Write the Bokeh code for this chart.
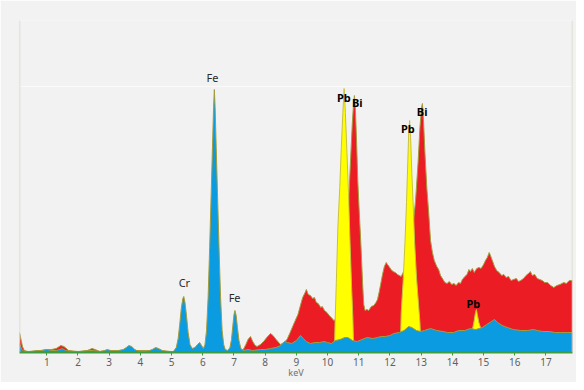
from bokeh.plotting import figure
from bokeh.models import Range1d, FixedTicker, Span
from bokeh.embed import file_html
from bokeh.resources import INLINE
from bokeh.core.properties import value

# ---------------- data (keV, counts) ----------------
blue_kev = [0.125, 0.16, 0.22, 0.30, 0.50, 0.70, 0.85, 1.00, 1.15, 1.30, 1.42, 1.50, 1.60, 1.80,
            2.10, 2.35, 2.50, 2.70, 2.85, 2.94, 3.05, 3.30, 3.45, 3.55, 3.63, 3.72, 3.82, 3.95,
            4.20, 4.38, 4.49, 4.58, 4.70, 4.90, 5.05,
            5.08, 5.15, 5.21, 5.26, 5.31, 5.36, 5.39, 5.43, 5.48, 5.53, 5.59, 5.66,
            5.75, 5.83, 5.90, 5.96, 6.02,
            6.07, 6.12, 6.17, 6.22, 6.27, 6.31, 6.345, 6.37, 6.395, 6.43, 6.47, 6.52, 6.57,
            6.62, 6.67, 6.72,
            6.80, 6.87, 6.92, 6.96, 7.00, 7.03, 7.07, 7.11, 7.16, 7.22, 7.30,
            7.45, 7.60, 7.85, 8.00, 8.17,
            8.35, 8.50, 8.62, 8.72, 8.85, 9.00, 9.13, 9.22, 9.32, 9.45, 9.60, 9.75, 9.88, 10.00,
            10.12, 10.25, 10.40, 10.55, 10.65, 10.80, 10.95, 11.10, 11.27, 11.45, 11.60, 11.72,
            11.85, 12.00, 12.12, 12.30, 12.45, 12.60, 12.70, 12.85, 12.98, 13.10, 13.30, 13.50,
            13.70, 13.85, 14.04, 14.20, 14.40, 14.58, 14.75, 14.96, 15.10, 15.25, 15.35, 15.45,
            15.60, 15.76, 15.95, 16.19, 16.40, 16.60, 16.72, 16.90, 17.10, 17.30, 17.50, 17.70,
            17.85]
blue_cts = [9, 6, 2, 1, 1, 2, 2, 3, 2, 2, 3, 4, 2, 1,
            1, 2, 2, 1, 2, 3, 2, 2, 3, 5, 7, 6, 3, 1,
            1, 3, 5, 4, 2, 1, 1,
            2, 5, 14, 28, 44, 54, 56, 50, 36, 20, 8, 4,
            5, 8, 10, 7, 4,
            8, 22, 55, 105, 160, 205, 245, 263, 245, 205, 160, 105, 55,
            22, 8, 3,
            2, 5, 13, 26, 38, 42, 37, 25, 12, 4, 2,
            3, 2, 3, 3, 4,
            5, 7, 11, 10, 9, 12, 17, 14, 11, 9, 10, 10, 11, 10,
            9, 12, 13, 15, 15, 12, 11, 13, 15, 14, 15, 16,
            16, 17, 19, 20, 22, 26, 25, 22, 21, 22, 24, 22,
            21, 20, 20, 22, 22, 24, 23, 25, 28, 31, 33, 30,
            27, 25, 23, 22, 22, 23, 22, 21, 21, 20, 20, 20,
            20]

red_kev = [0.125, 0.14, 0.18, 0.22, 0.28, 0.40, 0.80, 1.00, 1.15, 1.30, 1.45, 1.55, 1.70, 2.00,
           2.30, 2.45, 2.55, 2.70, 3.00, 3.50, 4.50, 5.00, 7.20, 7.30, 7.38, 7.45, 7.53, 7.60,
           7.68, 7.74, 7.85, 7.95, 8.05, 8.17, 8.25, 8.35, 8.49, 8.60, 8.70, 8.80, 8.88, 8.95,
           9.05, 9.12, 9.20, 9.28, 9.32, 9.38, 9.45, 9.52, 9.58, 9.64, 9.70, 9.78, 9.83, 9.90,
           9.98, 10.05, 10.12, 10.20, 10.25, 10.30, 10.45, 10.55, 10.62, 10.68, 10.74, 10.79,
           10.83, 10.86, 10.89, 10.93, 10.97, 11.00, 11.04, 11.08, 11.12, 11.16, 11.20, 11.26,
           11.32, 11.40, 11.48, 11.55, 11.60, 11.65, 11.70, 11.76, 11.82, 11.88, 11.92, 11.97,
           12.03, 12.10, 12.17, 12.24, 12.30, 12.36, 12.50, 12.65, 12.75, 12.82, 12.90, 12.96,
           13.01, 13.04, 13.07, 13.12, 13.18, 13.24, 13.30, 13.36, 13.42, 13.50, 13.56, 13.62,
           13.70, 13.76, 13.83, 13.90, 13.98, 14.05, 14.12, 14.20, 14.26, 14.32, 14.40, 14.47,
           14.53, 14.58, 14.64, 14.70, 14.78, 14.85, 14.92, 15.00, 15.06, 15.12, 15.18, 15.22,
           15.28, 15.35, 15.42, 15.50, 15.58, 15.65, 15.72, 15.80, 15.88, 15.96, 16.05, 16.12,
           16.19, 16.28, 16.36, 16.44, 16.50, 16.56, 16.64, 16.72, 16.80, 16.88, 16.96, 17.05,
           17.15, 17.25, 17.35, 17.45, 17.57, 17.65, 17.75, 17.85]
red_cts = [20, 18, 12, 6, 2, 1, 2, 3, 3, 4, 7, 6, 2, 1,
           2, 4, 3, 1, 2, 2, 2, 1, 1, 3, 8, 13, 16, 11,
           7, 6, 8, 11, 15, 19, 17, 13, 8, 10, 13, 20, 26, 31,
           38, 46, 55, 60, 63, 58, 57, 54, 55, 50, 49, 45, 46, 42,
           40, 37, 35, 32, 33, 38, 50, 70, 110, 155, 195, 228,
           248, 257, 245, 210, 170, 150, 125, 100, 70, 48, 42, 43,
           42, 46, 47, 50, 53, 60, 68, 78, 86, 90, 88, 86,
           83, 81, 80, 78, 77, 76, 85, 100, 130, 152, 190, 225,
           245, 249, 235, 200, 165, 140, 112, 100, 92, 86, 83, 77,
           73, 70, 69, 71, 68, 69, 67, 70, 69, 73, 76, 78,
           83, 81, 84, 80, 84, 85, 84, 88, 92, 95, 100, 97,
           92, 86, 82, 80, 77, 78, 75, 76, 72, 73, 74, 71,
           72, 74, 77, 79, 81, 77, 78, 74, 73, 72, 70, 70,
           67, 65, 67, 68, 70, 69, 72, 72]

pb_la_kev = [10.22, 10.24, 10.28, 10.33, 10.39, 10.44, 10.49, 10.53, 10.57, 10.62, 10.67, 10.72,
             10.77, 10.81, 10.84]
pb_la_cts = [0, 30, 70, 125, 165, 205, 240, 264, 240, 200, 160, 110, 65, 35, 0]
pb_lb_kev = [12.33, 12.36, 12.42, 12.48, 12.53, 12.57, 12.60, 12.63, 12.66, 12.70, 12.74, 12.79,
             12.85, 12.91, 12.96, 13.00]
pb_lb_cts = [0, 40, 70, 110, 150, 190, 220, 232, 215, 180, 150, 110, 75, 50, 30, 0]
pb_lg_kev = [14.62, 14.65, 14.70, 14.74, 14.77, 14.80, 14.85, 14.90, 14.95]
pb_lg_cts = [0, 24, 32, 40, 43, 38, 30, 25, 0]

fecr_text = ["Fe", "Cr", "Fe"]
fecr_kev = [6.31, 5.41, 7.02]
fecr_cts = [275, 70, 55]
pbbi_text = ["Pb", "Bi", "Pb", "Bi", "Pb"]
pbbi_kev = [10.52, 10.95, 12.57, 13.03, 14.67]
pbbi_cts = [255, 250, 224, 241, 49]

tick_values = list(range(1, 18))
x_min, x_max = 0.125, 17.85
y_min, y_max = 0, 332

# ---------------- styling ----------------
BG = "#f2f2f2"
BLUE = "#0a9be0"
RED = "#ec1c24"
YELLOW = "#ffff00"
EDGE = "#a29c3e"
GREEN = "#3e9b3e"

p = figure(frame_width=553, frame_height=332, output_backend="svg", toolbar_location=None,
           x_range=Range1d(x_min, x_max), y_range=Range1d(y_min, y_max),
           y_axis_location=None, min_border_left=19, min_border_top=20,
           min_border_right=4, min_border_bottom=30)
p.background_fill_color = BG
p.border_fill_color = BG
p.outline_line_color = None
p.grid.visible = False

# faint band line
p.add_layout(Span(location=266, dimension="width", line_color="#fafafa", line_width=1))
# side frame lines
p.add_layout(Span(location=x_min, dimension="height", line_color="#d6d6c8", line_width=1.5))
p.add_layout(Span(location=x_max, dimension="height", line_color="#d6d6c8", line_width=1.5))

# red spectrum
p.varea(x=red_kev, y1=0, y2=red_cts, fill_color=RED)
p.line(red_kev, red_cts, line_color=EDGE, line_width=1)
# yellow Pb peaks
for kx, ky in ((pb_la_kev, pb_la_cts), (pb_lb_kev, pb_lb_cts), (pb_lg_kev, pb_lg_cts)):
    p.varea(x=kx, y1=0, y2=ky, fill_color=YELLOW)
    p.line(kx, ky, line_color="#c8c040", line_width=1)
# blue spectrum
p.varea(x=blue_kev, y1=0, y2=blue_cts, fill_color=BLUE)
p.line(blue_kev, blue_cts, line_color=EDGE, line_width=1)

# labels
p.text(x=fecr_kev, y=fecr_cts, text=fecr_text, text_align="center", text_baseline="middle",
       text_font=value("Noto Sans"), text_font_size="11px", text_color="#2a2a2a")
p.text(x=pbbi_kev, y=pbbi_cts, text=pbbi_text, text_align="center", text_baseline="middle",
       text_font=value("Noto Sans"), text_font_size="11px", text_color="#000000",
       text_font_style="bold")

ax = p.xaxis[0]
ax.ticker = FixedTicker(ticks=tick_values)
ax.axis_line_color = GREEN
ax.axis_line_width = 2
ax.major_tick_line_color = GREEN
ax.major_tick_in = 0
ax.major_tick_out = 3
ax.minor_tick_line_color = None
ax.major_label_standoff = 2
ax.major_label_text_font = "Noto Sans"
ax.major_label_text_font_size = "10px"
ax.major_label_text_color = "#606060"
ax.axis_label = "keV"
ax.axis_label_standoff = -3
ax.axis_label_text_font = "Noto Sans"
ax.axis_label_text_font_size = "9px"
ax.axis_label_text_font_style = "normal"
ax.axis_label_text_color = "#707070"

html = file_html(p, INLINE)
html = html.replace("<body>", '<body style="background:#f2f2f2;">', 1)
open("out.html", "w").write(html)
